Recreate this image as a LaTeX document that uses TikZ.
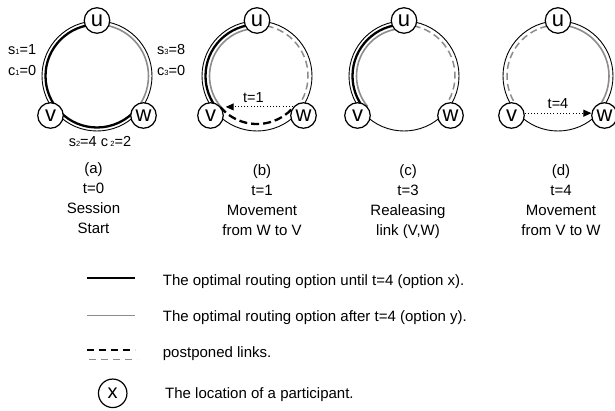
\documentclass[tikz,border=0pt]{standalone}
\usepackage{fontspec}
\setmainfont{Liberation Sans}
\usetikzlibrary{arrows.meta}
\definecolor{routegray}{HTML}{8C8C8C}

\tikzset{
  peer/.style={circle,draw,line width=1.2pt,fill=white,minimum size=25.5pt,inner sep=0pt,
    font=\fontsize{22}{22}\selectfont},
  ring/.style={line width=0.9pt},
  optx/.style={line width=2.3pt},
  opty/.style={line width=1.6pt,draw=routegray},
  postx/.style={line width=2.3pt,dash pattern=on 8pt off 4pt},
  posty/.style={line width=1.5pt,draw=routegray,dash pattern=on 7pt off 4pt},
  move/.style={line width=1pt,dash pattern=on 1pt off 2.2pt,
    -{Triangle[length=8pt,width=7pt]}},
  lbl/.style={inner sep=0pt,font=\fontsize{14.5}{16}\selectfont},
  captext/.style={inner sep=0pt,anchor=north,align=center,font=\fontsize{15}{20}\selectfont},
  legtext/.style={inner sep=0pt,anchor=west,font=\fontsize{15}{17}\selectfont},
}
\newcommand{\sub}[1]{{\fontsize{7.5}{8}\selectfont #1}}

\begin{document}
\begin{tikzpicture}[x=1pt,y=1pt]
\useasboundingbox (0,0) rectangle (615,410);

% ---- (a) session start ----
\begin{scope}[shift={(97,334)}]
  \draw[ring] (0,0) circle (55);
  \draw[optx] (90:51.5) arc (90:320:51.5);
  \draw[opty] (-40:51.5) arc (-40:90:51.5);
  \node[peer] (ua) at (0,55.5) {u};
  \node[peer] (va) at (-46.5,-39.5) {v};
  \node[peer] (wa) at (46.5,-39.5) {w};
\end{scope}
\node[lbl,anchor=west] (s1) at (8,360) {s\sub{1}=1};
\node[lbl,anchor=west] (c1) at (8,339.5) {c\sub{1}=0};
\node[lbl,anchor=west] (s3) at (157,360) {s\sub{3}=8};
\node[lbl,anchor=west] (c3) at (157,339.5) {c\sub{3}=0};
\node[lbl] (s2) at (100,268.5) {s\sub{2}=4 c\,\sub{2}=2};

% ---- (b) movement from W to V ----
\begin{scope}[shift={(257,334)}]
  \draw[ring] (0,0) circle (55);
  \draw[optx] (90:51.5) arc (90:220:51.5);
  \draw[opty] (90:47.5) arc (90:220:47.5);
  \draw[posty] (-40:51) arc (-40:90:51);
  \draw[postx] (220:48) arc (220:320:48);
  \node[peer] (ub) at (0,55.5) {u};
  \node[peer] (vb) at (-46.5,-39.5) {v};
  \node[peer] (wb) at (46.5,-39.5) {w};
\end{scope}
\draw[move,shorten >=5pt] (wb.140) -- (vb.40)
  node[lbl,pos=0.55,above=4pt] (t1) {t=1};

% ---- (c) releasing link (V,W) ----
\begin{scope}[shift={(404,334)}]
  \draw[ring] (0,0) circle (55);
  \draw[optx] (90:51.5) arc (90:220:51.5);
  \draw[opty] (90:47.5) arc (90:220:47.5);
  \draw[posty] (-40:51) arc (-40:90:51);
  \node[peer] (uc) at (0,55.5) {u};
  \node[peer] (vc) at (-46.5,-39.5) {v};
  \node[peer] (wc) at (46.5,-39.5) {w};
\end{scope}

% ---- (d) movement from V to W ----
\begin{scope}[shift={(558,334)}]
  \draw[ring] (0,0) circle (55);
  \draw[posty] (90:51) arc (90:220:51);
  \draw[opty] (-40:51) arc (-40:90:51);
  \node[peer] (ud) at (0,55.5) {u};
  \node[peer] (vd) at (-46.5,-39.5) {v};
  \node[peer] (wd) at (46.5,-39.5) {w};
\end{scope}
\draw[move] (vd.10) -- (wd.170)
  node[lbl,midway,above=4pt] (t4) {t=4};

% ---- captions ----
\node[captext] (capa) at (93.5,247.4) {(a)\\t=0\\Session\\Start};
\node[captext] (capb) at (262,246) {(b)\\t=1\\Movement\\from W to V};
\node[captext] (capc) at (408,246) {(c)\\t=3\\Realeasing\\link (V,W)};
\node[captext] (capd) at (561,246) {(d)\\t=4\\Movement\\from V to W};

% ---- legend ----
\coordinate (l1a) at (87,132);   \coordinate (l1b) at (135,132);
\coordinate (l2a) at (87,94.3);  \coordinate (l2b) at (135,94.3);
\coordinate (l3a) at (87,60);    \coordinate (l3b) at (135,60);
\coordinate (l4a) at (89,50.7);  \coordinate (l4b) at (137,50.7);
\draw[line width=1.8pt] (l1a) -- (l1b);
\draw[line width=1.5pt,draw=routegray] (l2a) -- (l2b);
\draw[line width=1.8pt,dash pattern=on 7pt off 5pt] (l3a) -- (l3b);
\draw[line width=1.3pt,draw=routegray,dash pattern=on 7pt off 5pt] (l4a) -- (l4b);
\node[peer,minimum size=28.5pt,font=\fontsize{20}{20}\selectfont] (lx) at (112.7,16.7) {x};

\node[legtext] (txt1) at (162.7,128.3) {The optimal routing option until t=4 (option x).};
\node[legtext] (txt2) at (162.7,92.7) {The optimal routing option after t=4 (option y).};
\node[legtext] (txt3) at (162.7,56.7) {postponed links.};
\node[legtext] (txt4) at (165,15) {The location of a participant.};
\end{tikzpicture}
\end{document}
